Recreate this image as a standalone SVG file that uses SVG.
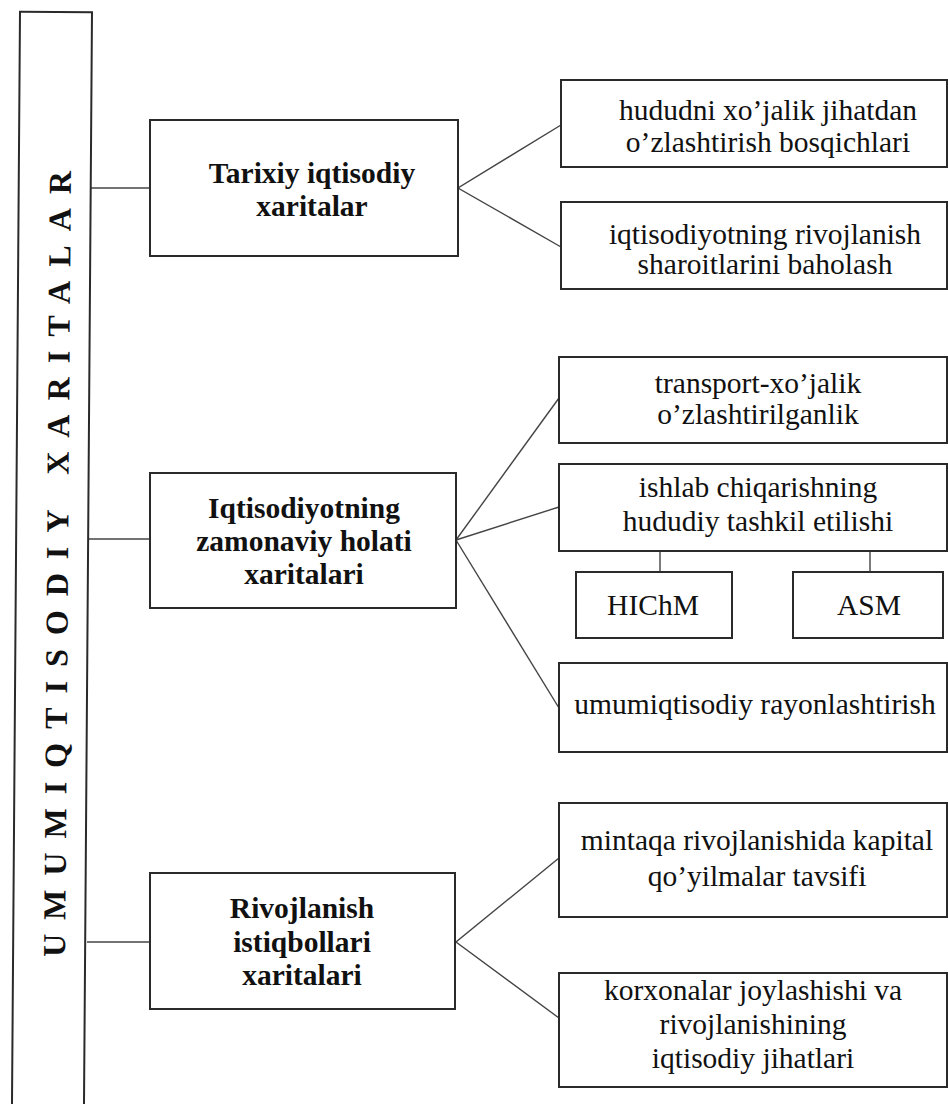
<svg xmlns="http://www.w3.org/2000/svg" width="948" height="1104" viewBox="0 0 948 1104">
<style>
.box{fill:#fff;stroke:#2a2a2a;stroke-width:2}
.con{fill:none;stroke:#444;stroke-width:1.4}
.bt{font-family:"Liberation Serif","Times New Roman",serif;font-weight:bold;font-size:29.5px;fill:#111;text-anchor:middle}
.rt{font-family:"Liberation Serif","Times New Roman",serif;font-size:29.5px;fill:#111;text-anchor:middle}
.vt{font-family:"Liberation Serif","Times New Roman",serif;font-weight:bold;font-size:32px;fill:#111}
</style>
<rect x="0" y="0" width="948" height="1104" fill="#fff"/>
<g id="connectors">
<line class="con" x1="91" y1="188" x2="150" y2="188"/>
<line class="con" x1="89" y1="539" x2="150" y2="539"/>
<line class="con" x1="87" y1="942" x2="150" y2="942"/>
<polyline class="con" points="561,125 458,188 561,247"/>
<line class="con" x1="456" y1="540" x2="559" y2="398"/>
<line class="con" x1="456" y1="540" x2="559" y2="507"/>
<line class="con" x1="456" y1="540" x2="559" y2="708"/>
<polyline class="con" points="559,858 456,942 559,1018"/>
<line class="con" x1="660" y1="551" x2="660" y2="572"/>
<line class="con" x1="870" y1="551" x2="870" y2="572"/>
</g>
<g id="root" transform="rotate(0.42 56 12)">
<rect class="box" x="20" y="12" width="72" height="1110"/>
<text class="vt" transform="translate(72 957) rotate(-90)" textLength="786" lengthAdjust="spacing">UMUMIQTISODIY XARITALAR</text>
</g>
<g id="tarixiy">
<rect class="box" x="150" y="120" width="308" height="136"/>
<text class="bt" x="312" y="183">Tarixiy iqtisodiy</text>
<text class="bt" x="312" y="216">xaritalar</text>
</g>
<g id="zamonaviy">
<rect class="box" x="150" y="473" width="306" height="135"/>
<text class="bt" x="304" y="518">Iqtisodiyotning</text>
<text class="bt" x="304" y="551">zamonaviy holati</text>
<text class="bt" x="304" y="584">xaritalari</text>
</g>
<g id="istiqbol">
<rect class="box" x="150" y="873" width="305" height="136"/>
<text class="bt" x="302" y="918">Rivojlanish</text>
<text class="bt" x="302" y="952">istiqbollari</text>
<text class="bt" x="302" y="985">xaritalari</text>
</g>
<g id="hududni">
<rect class="box" x="561" y="80" width="386" height="87"/>
<text class="rt" x="768" y="120">hududni xo’jalik jihatdan</text>
<text class="rt" x="768" y="152">o’zlashtirish bosqichlari</text>
</g>
<g id="baholash">
<rect class="box" x="561" y="202" width="386" height="87"/>
<text class="rt" x="765" y="244">iqtisodiyotning rivojlanish</text>
<text class="rt" x="765" y="274">sharoitlarini baholash</text>
</g>
<g id="transport">
<rect class="box" x="559" y="357" width="388" height="86"/>
<text class="rt" x="758" y="393">transport-xo’jalik</text>
<text class="rt" x="758" y="424">o’zlashtirilganlik</text>
</g>
<g id="ishlab">
<rect class="box" x="559" y="464" width="388" height="87"/>
<text class="rt" x="758" y="497">ishlab chiqarishning</text>
<text class="rt" x="758" y="531">hududiy tashkil etilishi</text>
</g>
<g id="hichm">
<rect class="box" x="576" y="572" width="156" height="66"/>
<text class="rt" x="653" y="615">HIChM</text>
</g>
<g id="asm">
<rect class="box" x="793" y="572" width="150" height="66"/>
<text class="rt" x="869" y="615">ASM</text>
</g>
<g id="rayon">
<rect class="box" x="559" y="663" width="388" height="89"/>
<text class="rt" x="755" y="714">umumiqtisodiy rayonlashtirish</text>
</g>
<g id="kapital">
<rect class="box" x="559" y="803" width="388" height="114"/>
<text class="rt" x="757" y="850">mintaqa rivojlanishida kapital</text>
<text class="rt" x="757" y="886">qo’yilmalar tavsifi</text>
</g>
<g id="korxonalar">
<rect class="box" x="559" y="973" width="388" height="114"/>
<text class="rt" x="753" y="1000">korxonalar joylashishi va</text>
<text class="rt" x="753" y="1034">rivojlanishining</text>
<text class="rt" x="753" y="1068">iqtisodiy jihatlari</text>
</g>
</svg>
